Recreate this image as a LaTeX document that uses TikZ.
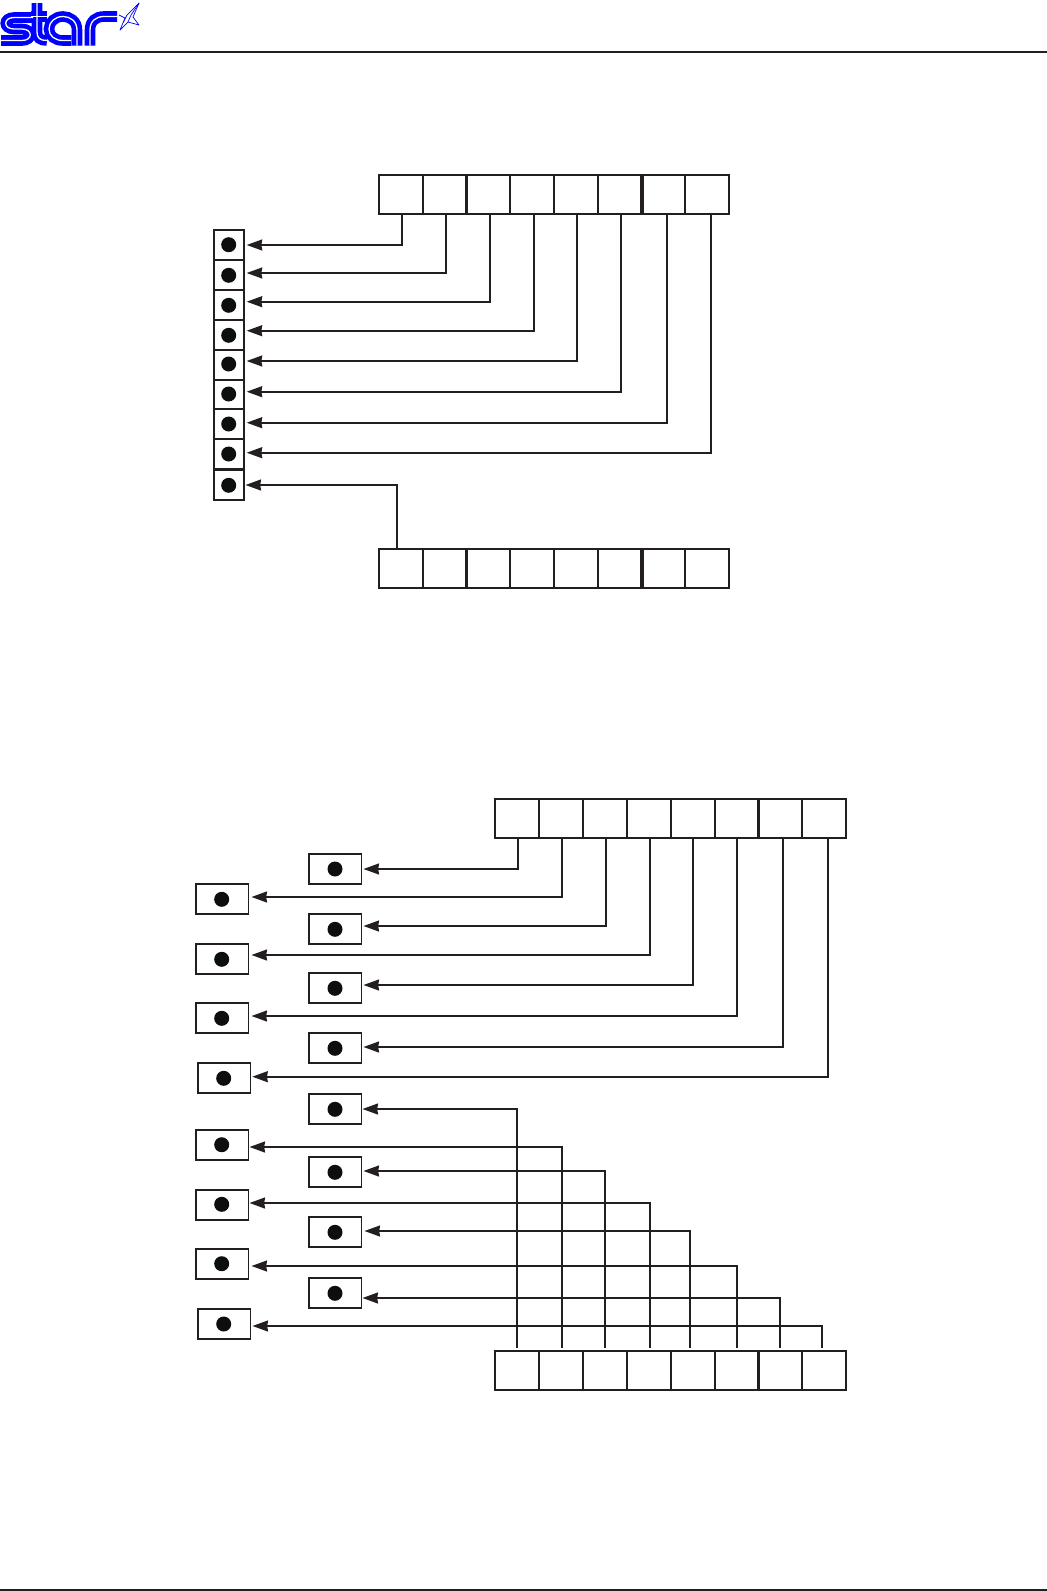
\documentclass[tikz,border=0pt]{standalone}
\usetikzlibrary{arrows.meta}
\definecolor{ink}{HTML}{231F20}
\definecolor{dotink}{HTML}{0D0F0F}
\definecolor{logoblue}{HTML}{0000FF}
\tikzset{
  cellbox/.style={draw=ink,line width=1.6pt,inner sep=0pt,outer sep=0pt,fill=white},
  pindot/.style={circle,fill=dotink,inner sep=0pt,outer sep=0pt,minimum size=15pt},
  conn/.style={draw=ink,line width=1.6pt,-{Stealth[inset=0.8pt,length=15.5pt,width=11pt,fill=ink]}},
  rulebar/.style={draw=ink,line width=2pt},
  logoouter/.style={draw=logoblue,line width=10.6pt,line cap=butt},
  logoinner/.style={draw=white,line width=1.3pt,line cap=butt},
  birdline/.style={draw=logoblue,line width=0.7pt,line join=round}
}
\begin{document}
\begin{tikzpicture}[x=1pt,y=-1pt]
\useasboundingbox (0,0) rectangle (1047,1591);
\fill[white] (0,0) rectangle (1047,1591);

% header and footer rules
\coordinate (hl) at (0,52); \coordinate (hr) at (1047,52);
\coordinate (fl) at (0,1590); \coordinate (fr) at (1047,1590);
\draw[rulebar] (hl) -- (hr);
\draw[rulebar] (fl) -- (fr);

% logo: letters s t a r
\foreach \sty in {logoouter,logoinner}{
  \draw[\sty] (33,17.5) -- (14,17.5) .. controls (3,17.5) and (3,29) .. (14,29) -- (22,29) .. controls (33,29) and (33,40.5) .. (22,40.5) -- (1,40.5);
  \draw[\sty] (37,3) -- (37,32) .. controls (37,38) and (40,40.5) .. (47,40.5);
  \draw[\sty] (31,16.5) -- (47,16.5);
  \draw[\sty] (77,45.5) -- (77,30) .. controls (77,21) and (70,16.5) .. (63,16.5) .. controls (55,16.5) and (49,22) .. (49,29) .. controls (49,36) and (55,40.5) .. (63,40.5) -- (71,40.5);
  \draw[\sty] (90,45.5) -- (90,30) .. controls (90,21) and (96,16.5) .. (104,16.5) -- (117,16.5);
}
% logo: bird
\draw[birdline] (119,15) -- (125,18) -- (120,30) -- (128,22) -- (139,25) -- (133,17) -- (139,3) -- (127,15) -- (123,23) -- (125,18);
\draw[birdline] (128,22) -- (131,15) -- (139,3);

% diagram 1: registers
\foreach \n/\a/\b in {1/379/423,2/423/465.8,3/467/510,4/510/554,5/554/598,6/598/641,7/642.8/685,8/685/729}{
  \node[cellbox,minimum width={(\b-\a)*1pt},minimum height=39pt] (A\n) at ({(\a+\b)/2},194.5) {};
  \node[cellbox,minimum width={(\b-\a)*1pt},minimum height=39pt] (B\n) at ({(\a+\b)/2},568.5) {};
}
% diagram 1: pin column
\foreach \n/\ya/\yb/\dy in {1/230/260/244.7,2/260/290/275.3,3/290/320/305.3,4/320/349.3/335.3,5/350/379.5/364,6/379.8/409/394,7/409/439/424,8/439/469/454,9/470/500/485.3}{
  \node[cellbox,minimum width=30pt,minimum height={(\yb-\ya)*1pt}] (P\n) at (229,{(\ya+\yb)/2}) {};
  \node[pindot] (Pd\n) at (228.7,\dy) {};
}
% diagram 1: connectors
\foreach \n/\tx/\ly in {1/402/245,2/446/273,3/490/301.7,4/534/330.7,5/577/361,6/621/391.7,7/667/422.7,8/711/452.7}{
  \coordinate (vx) at (\tx,0);
  \coordinate (vy) at (0,\ly);
  \draw[conn,shorten >=2.7pt] (A\n.south -| vx) |- (P\n.east |- vy);
}
\coordinate (vx) at (397,0);
\coordinate (vy) at (0,485);
\draw[conn,shorten >=1.5pt] (B1.north -| vx) |- (P9.east |- vy);

% diagram 2: registers
\foreach \n/\a/\b in {1/495/539,2/539/583,3/583/627,4/627/671,5/671/715,6/715/757.3,7/758.7/802,8/802/846}{
  \node[cellbox,minimum width={(\b-\a)*1pt},minimum height=39pt] (C\n) at ({(\a+\b)/2},818.5) {};
  \node[cellbox,minimum width={(\b-\a)*1pt},minimum height=39pt] (D\n) at ({(\a+\b)/2},1370.2) {};
}
% diagram 2: pin boxes
\foreach \n/\cx/\ya/\yb/\dx/\dy in {
  1/335/854/884/335/869,
  2/222/884/914/221.7/899.3,
  3/335/914/944/335/929.3,
  4/222/944/974/221.7/959.3,
  5/335/973/1003/335/988.3,
  6/222/1003/1033/221.7/1018.3,
  7/335/1033/1063/335/1048.3,
  8/224/1063/1093/223.7/1078.3,
  9/335/1094/1124/335/1109.3,
  10/222/1130/1160/221.7/1144.7,
  11/335/1157/1187/335/1172.3,
  12/222/1190/1220/221.7/1204.3,
  13/335/1217/1247/335/1232.3,
  14/222/1249/1279/221.7/1263.7,
  15/335/1278/1308/335/1293.3,
  16/224/1309/1339/223.7/1324}{
  \node[cellbox,minimum width=52.6pt,minimum height={(\yb-\ya)*1pt}] (Q\n) at (\cx,{(\ya+\yb)/2}) {};
  \node[pindot] (Qd\n) at (\dx,\dy) {};
}
% diagram 2: upper connectors
\foreach \c/\n/\tx/\ly/\g in {1/1/518/869/2.2,2/2/562/897/3.2,3/3/606/926/2.2,4/4/650/955/3.2,5/5/693/985/2.2,6/6/737/1016/3.2,7/7/783/1047/2.2,8/8/828/1076.7/2}{
  \coordinate (vx) at (\tx,0);
  \coordinate (vy) at (0,\ly);
  \draw[conn,shorten >=\g pt] (C\c.south -| vx) |- (Q\n.east |- vy);
}
% diagram 2: lower connectors
\foreach \c/\n/\tx/\ly/\g in {1/9/517/1109/1.2,2/10/562/1147/1.2,3/11/605/1171/2.2,4/12/650/1203/1.2,5/13/690/1231/3.2,6/14/737/1266/3.2,7/15/780/1298/1.2,8/16/822/1326/2.2}{
  \coordinate (vx) at (\tx,0);
  \coordinate (vy) at (0,\ly);
  \draw[conn,shorten <=2.6pt,shorten >=\g pt] (D\c.north -| vx) |- (Q\n.east |- vy);
}
\end{tikzpicture}
\end{document}
